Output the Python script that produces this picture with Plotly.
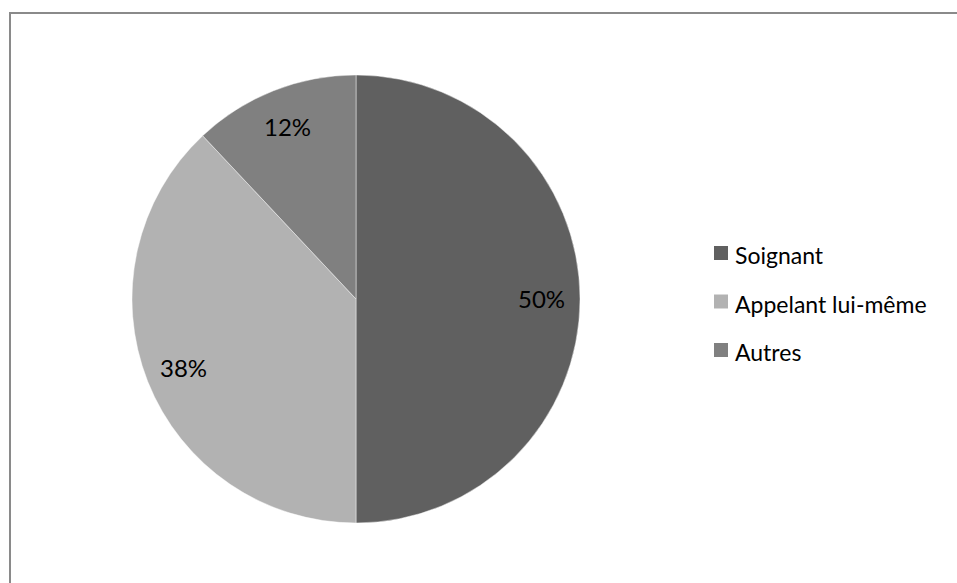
import math
import plotly.graph_objects as go

# Répartition des appelants
categories = ["Soignant", "Appelant lui-même", "Autres"]
values = [50, 38, 12]
colors = ["#606060", "#b2b2b2", "#808080"]

W, H = 957, 583
FONT = "Lato"

# pie placement (paper fractions)
dom_x = [0.1379, 0.6061]
dom_y = [0.1029, 0.8714]

fig = go.Figure(
    go.Pie(
        labels=categories,
        values=values,
        sort=False,
        direction="clockwise",
        rotation=0,
        marker=dict(colors=colors, line=dict(color="rgba(255,255,255,0.45)", width=1)),
        textinfo="none",
        hoverinfo="label+percent",
        showlegend=False,
        domain=dict(x=dom_x, y=dom_y),
    )
)

# percentage labels, placed along each slice's mid-angle
cx = (dom_x[0] + dom_x[1]) / 2 * W
cy = (1 - (dom_y[0] + dom_y[1]) / 2) * H
radius = min((dom_x[1] - dom_x[0]) * W, (dom_y[1] - dom_y[0]) * H) / 2
total = sum(values)
start = 0.0
annotations = []
for v in values:
    mid = math.radians((start + v / 2) / total * 360)
    start += v
    r = 0.83 * radius
    px = cx + r * math.sin(mid)
    py = cy - r * math.cos(mid)
    annotations.append(
        dict(
            x=px / W, y=1 - py / H, xref="paper", yref="paper",
            text=f"{round(v / total * 100)}%", showarrow=False,
            font=dict(family=FONT, size=24, color="#000000"),
            xanchor="center", yanchor="middle",
        )
    )

# legend drawn as swatches + text
shapes = []
leg_x = 714
leg_y0 = 253
leg_step = 48.5
sw = 14
for i, (lab, col) in enumerate(zip(categories, colors)):
    yc = leg_y0 + i * leg_step
    shapes.append(
        dict(
            type="rect", xref="paper", yref="paper",
            x0=leg_x / W, x1=(leg_x + sw) / W,
            y0=1 - (yc + sw / 2) / H, y1=1 - (yc - sw / 2) / H,
            fillcolor=col, line=dict(width=0),
        )
    )
    annotations.append(
        dict(
            x=(leg_x + sw + 5) / W, y=1 - (yc + 2) / H, xref="paper", yref="paper",
            text=lab, showarrow=False,
            font=dict(family=FONT, size=23, color="#000000"),
            xanchor="left", yanchor="middle",
        )
    )

# chart area frame
shapes.append(
    dict(
        type="rect", xref="paper", yref="paper",
        x0=10 / W, y1=1 - 13 / H, x1=1.05, y0=-0.05,
        line=dict(color="#8a8a8a", width=2), fillcolor="rgba(0,0,0,0)",
    )
)

fig.update_layout(
    width=W, height=H,
    margin=dict(l=0, r=0, t=0, b=0),
    paper_bgcolor="#ffffff",
    plot_bgcolor="#ffffff",
    shapes=shapes,
    annotations=annotations,
    font=dict(family=FONT),
)

fig.write_html("out.html", config={"displayModeBar": False})
